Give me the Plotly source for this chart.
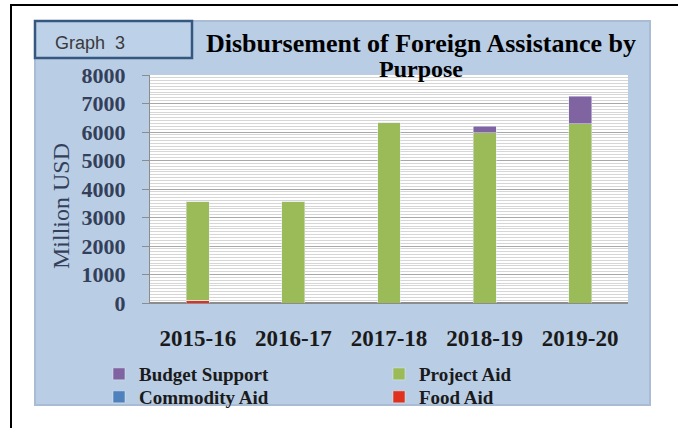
import plotly.graph_objects as go

# ---- data ----
years = ["2015-16", "2016-17", "2017-18", "2018-19", "2019-20"]
budget_support = [0, 0, 0, 230, 970]
project_aid = [3450, 3550, 6330, 5980, 6290]
commodity_aid = [0, 0, 0, 0, 0]
food_aid = [100, 0, 0, 0, 0]
y_ticks = [0, 1000, 2000, 3000, 4000, 5000, 6000, 7000, 8000]

# ---- layout helpers (pixel -> paper) ----
W, H = 678, 428
L, R, T, B = 150, 50, 75, 125
def px(x):
    return (x - L) / (W - L - R)
def py(y):
    return (H - B - y) / (H - T - B)

SERIF = "Liberation Serif, Times New Roman, serif"
bw = 0.24
legend_font = dict(family=SERIF, size=19, color="#1A1A1A", weight="bold")

fig = go.Figure()
fig.add_trace(go.Bar(x=years, y=food_aid, name="Food Aid", marker_color="#E0301E", width=bw, legend="legend2"))
fig.add_trace(go.Bar(x=years, y=commodity_aid, name="Commodity Aid", marker_color="#4F81BD", width=bw, legend="legend2"))
fig.add_trace(go.Bar(x=years, y=project_aid, name="Project Aid", marker_color="#9BBB59", width=bw, legend="legend"))
fig.add_trace(go.Bar(x=years, y=budget_support, name="Budget Support", marker_color="#8064A2", width=bw, legend="legend"))

shapes = [
    # outer frame
    dict(type="rect", xref="paper", yref="paper", x0=px(11), x1=px(700), y0=py(5), y1=py(460),
         line=dict(color="black", width=2), fillcolor="rgba(0,0,0,0)", layer="below"),
    # blue chart panel
    dict(type="rect", xref="paper", yref="paper", x0=px(35), x1=px(650), y0=py(21), y1=py(405),
         line=dict(color="#A9BCD3", width=2), fillcolor="#B9CDE5", layer="below"),
    # white plot area
    dict(type="rect", xref="paper", yref="paper", x0=0, x1=1, y0=0, y1=1,
         line=dict(width=0), fillcolor="white", layer="below"),
    # Graph 3 box
    dict(type="rect", xref="paper", yref="paper", x0=px(35), x1=px(192), y0=py(21), y1=py(58),
         line=dict(color="#34587F", width=2.5), fillcolor="#BDD1E9", layer="below"),
]

annotations = [
    dict(text="Graph  3", x=px(90), y=py(43), xref="paper", yref="paper", showarrow=False,
         xanchor="center", yanchor="middle",
         font=dict(family="Liberation Sans, Arial", size=18, color="#3A3A3A")),
    dict(text="Disbursement of Foreign Assistance by", x=px(421), y=py(43), xref="paper", yref="paper",
         showarrow=False, xanchor="center", yanchor="middle",
         font=dict(family=SERIF, size=26, color="black", weight="bold")),
    dict(text="Purpose", x=px(421), y=py(69), xref="paper", yref="paper",
         showarrow=False, xanchor="center", yanchor="middle",
         font=dict(family=SERIF, size=24, color="black", weight="bold")),
    dict(text="Million USD", x=px(61), y=py(206), xref="paper", yref="paper", textangle=-90,
         showarrow=False, xanchor="center", yanchor="middle",
         font=dict(family=SERIF, size=24, color="#34405A")),
]

fig.update_layout(
    width=W, height=H,
    margin=dict(l=L, r=R, t=T, b=B, pad=0, autoexpand=False),
    paper_bgcolor="white", plot_bgcolor="white",
    barmode="stack",
    shapes=shapes, annotations=annotations,
    showlegend=True,
    legend=dict(orientation="h", traceorder="reversed", x=px(99), y=py(355), xanchor="left", yanchor="top",
                entrywidth=235, entrywidthmode="pixels", bgcolor="rgba(0,0,0,0)",
                font=legend_font, itemwidth=30),
    legend2=dict(orientation="h", traceorder="reversed", x=px(99), y=py(378), xanchor="left", yanchor="top",
                 entrywidth=235, entrywidthmode="pixels", bgcolor="rgba(0,0,0,0)",
                 font=legend_font, itemwidth=30),
)
fig.update_yaxes(range=[0, 8000], tickvals=y_ticks, showgrid=True, gridcolor="#A8A8A8", gridwidth=1,
                 minor=dict(dtick=100, showgrid=True, gridcolor="#D6D6D6", gridwidth=1),
                 ticks="outside", ticklen=7, tickcolor="#8C8C8C", showline=True, linecolor="#8C8C8C",
                 ticklabelstandoff=12, zeroline=True, zerolinecolor="#8C8C8C", automargin=False,
                 tickfont=dict(family=SERIF, size=22, color="#34405A", weight="bold"))
fig.update_xaxes(showgrid=False, ticks="", showline=True, linecolor="#8C8C8C", ticklabelstandoff=14,
                 automargin=False,
                 tickfont=dict(family=SERIF, size=23, color="#1A1A1A", weight="bold"))

fig.write_html("out.html", config={"displayModeBar": False},
               post_script="document.body.style.margin='0px';")
